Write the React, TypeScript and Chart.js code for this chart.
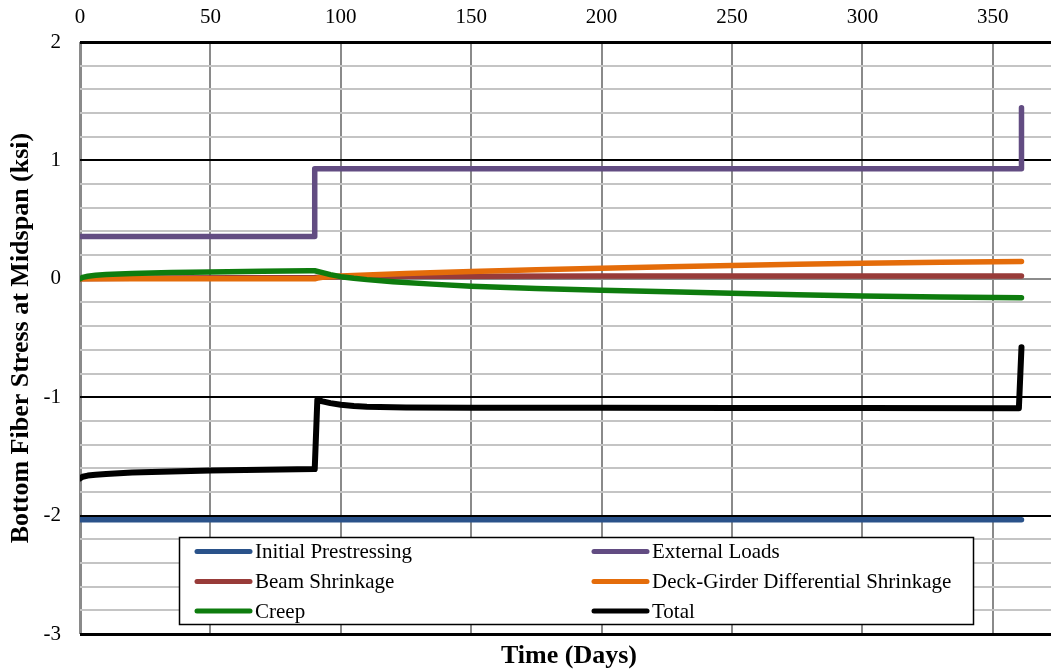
import { useEffect, useRef } from 'react';
import { Chart, registerables } from 'chart.js';

Chart.register(...registerables);

const FONT = '"Liberation Serif", "Times New Roman", serif';

const yAxisTitle = 'Bottom Fiber Stress at Midspan (ksi)';
const xAxisTitle = 'Time (Days)';
const xTickValues = [0, 50, 100, 150, 200, 250, 300, 350];

const seriesNames = [
  'Initial Prestressing',
  'External Loads',
  'Beam Shrinkage',
  'Deck-Girder Differential Shrinkage',
  'Creep',
  'Total',
];
const seriesColors = ['#2A528A', '#624C82', '#983B39', '#E46C0A', '#0E7C0E', '#000000'];

// Stress components (ksi) against time (days)
const prestressDays = [0, 361];
const prestressValues = [-2.035, -2.035];

const externalDays = [0, 90, 90, 361, 361];
const externalValues = [0.357, 0.357, 0.929, 0.929, 1.444];

const beamShrinkDays = [0, 10, 30, 60, 90, 92, 95, 100, 110, 125, 150, 200, 250, 300, 361];
const beamShrinkValues = [0, 0.003, 0.006, 0.008, 0.01, 0.013, 0.016, 0.018, 0.02, 0.021, 0.022, 0.023, 0.023, 0.024, 0.024];

const deckDiffDays = [0, 90, 91, 93, 96, 100, 105, 110, 125, 150, 175, 200, 226, 250, 275, 300, 330, 361];
const deckDiffValues = [0, 0, 0.006, 0.012, 0.018, 0.023, 0.028, 0.033, 0.045, 0.062, 0.076, 0.089, 0.102, 0.113, 0.123, 0.132, 0.14, 0.146];

const creepDays = [0, 1, 3, 6, 10, 20, 35, 50, 70, 88, 90, 93, 96, 100, 105, 110, 120, 135, 150, 175, 200, 230, 250, 275, 300, 330, 361];
const creepValues = [0, 0.012, 0.022, 0.03, 0.036, 0.045, 0.053, 0.058, 0.064, 0.068, 0.068, 0.052, 0.035, 0.018, 0.004, -0.007, -0.024, -0.045, -0.062, -0.082, -0.096, -0.112, -0.121, -0.134, -0.146, -0.154, -0.16];

const totalDays = [0, 1, 3, 6, 10, 20, 35, 50, 70, 90, 91, 93, 96, 100, 105, 110, 125, 150, 200, 250, 300, 360, 361];
const totalValues = [-1.685, -1.672, -1.662, -1.655, -1.648, -1.637, -1.627, -1.62, -1.613, -1.607, -1.022, -1.035, -1.05, -1.064, -1.074, -1.08, -1.086, -1.089, -1.09, -1.091, -1.092, -1.093, -0.578];

const seriesDays = [prestressDays, externalDays, beamShrinkDays, deckDiffDays, creepDays, totalDays];
const seriesValues = [prestressValues, externalValues, beamShrinkValues, deckDiffValues, creepValues, totalValues];

const isWhole = (v: number) => Math.abs(v - Math.round(v)) < 1e-6;

// Legend drawn inside the plot area, two columns, on a white box
const insideLegend = {
  id: 'insideLegend',
  afterDatasetsDraw(chart: any) {
    const { ctx } = chart;
    const box = { x: 179.5, y: 537.5, w: 794, h: 87 };
    ctx.save();
    ctx.fillStyle = '#ffffff';
    ctx.fillRect(box.x, box.y, box.w, box.h);
    ctx.strokeStyle = '#000000';
    ctx.lineWidth = 1.5;
    ctx.strokeRect(box.x, box.y, box.w, box.h);
    const colX = [197, 594];
    const rowY = [551.5, 581.5, 611];
    ctx.font = `21px ${FONT}`;
    ctx.textBaseline = 'middle';
    ctx.textAlign = 'left';
    chart.data.datasets.forEach((ds: any, i: number) => {
      const cx = colX[i % 2];
      const cy = rowY[Math.floor(i / 2)];
      ctx.strokeStyle = ds.borderColor;
      ctx.lineWidth = 5;
      ctx.lineCap = 'round';
      ctx.beginPath();
      ctx.moveTo(cx, cy);
      ctx.lineTo(cx + 53, cy);
      ctx.stroke();
      ctx.fillStyle = '#000000';
      ctx.fillText(ds.label, cx + 58, cy + 1);
    });
    ctx.restore();
  },
};

// Horizontal axis title below the plot area
const bottomTitle = {
  id: 'bottomTitle',
  afterDraw(chart: any) {
    const { ctx, chartArea } = chart;
    ctx.save();
    ctx.font = `bold 26px ${FONT}`;
    ctx.fillStyle = '#000000';
    ctx.textAlign = 'center';
    ctx.textBaseline = 'alphabetic';
    ctx.fillText(xAxisTitle, (chartArea.left + chartArea.right) / 2, 663);
    ctx.restore();
  },
};

export default function App() {
  const ref = useRef<HTMLCanvasElement>(null);

  useEffect(() => {
    const n = seriesNames.length;
    const datasets = seriesNames.map((name, i) => ({
      label: name,
      data: seriesDays[i].map((d, j) => ({ x: d, y: seriesValues[i][j] })),
      borderColor: seriesColors[i],
      backgroundColor: seriesColors[i],
      borderWidth: i === 5 ? 6 : 5.5,
      borderCapStyle: 'round' as const,
      borderJoinStyle: 'round' as const,
      pointRadius: 0,
      tension: 0,
      fill: false,
      // later series are painted over earlier ones
      order: n - 1 - i,
      clip: { left: 0, top: 6, right: 6, bottom: 6 },
    }));

    const chart = new Chart(ref.current!, {
      type: 'line',
      data: { datasets },
      plugins: [insideLegend, bottomTitle],
      options: {
        animation: false,
        responsive: false,
        layout: { padding: { left: 0, top: 0, right: 0, bottom: 36 } },
        plugins: {
          legend: { display: false },
          tooltip: { enabled: false },
        },
        scales: {
          x: {
            type: 'linear',
            position: 'top',
            min: 0,
            max: 375,
            afterBuildTicks: (scale: any) => {
              scale.ticks = xTickValues.map((v) => ({ value: v }));
            },
            afterFit: (scale: any) => {
              scale.height = 42;
            },
            border: { display: false },
            grid: {
              drawTicks: false,
              color: '#8a8a8a',
              lineWidth: (c: any) => (c.tick && c.tick.value === 0 ? 3 : 2),
            },
            ticks: {
              padding: 12,
              color: '#000000',
              font: { family: FONT, size: 21 },
              maxRotation: 0,
              autoSkip: false,
            },
          },
          y: {
            type: 'linear',
            min: -3,
            max: 2,
            afterFit: (scale: any) => {
              scale.width = 80;
            },
            border: { display: false },
            grid: {
              drawTicks: false,
              color: (c: any) => {
                const v = c.tick ? c.tick.value : 0;
                if (isWhole(v)) return Math.round(v) === 0 ? '#8c8c8c' : '#000000';
                return '#c4c4c4';
              },
              lineWidth: (c: any) => {
                const v = c.tick ? c.tick.value : 0;
                if (isWhole(v)) {
                  const r = Math.round(v);
                  return r === 2 || r === -3 ? 3 : 2;
                }
                return 2;
              },
            },
            ticks: {
              stepSize: 0.2,
              autoSkip: false,
              padding: 19,
              color: '#000000',
              font: { family: FONT, size: 21 },
              callback: (v: any) => (isWhole(Number(v)) ? String(Math.round(Number(v))) : ''),
            },
            title: {
              display: true,
              text: yAxisTitle,
              color: '#000000',
              font: { family: FONT, size: 26, weight: 'bold' },
              padding: { top: 6, bottom: 0 },
            },
          },
        },
      },
    });

    return () => chart.destroy();
  }, []);

  return (
    <div
      style={{
        position: 'absolute',
        left: 0,
        top: 0,
        width: 1051,
        height: 670,
        overflow: 'hidden',
        background: '#ffffff',
      }}
    >
      <canvas ref={ref} width={1058} height={670} style={{ display: 'block' }} />
    </div>
  );
}
